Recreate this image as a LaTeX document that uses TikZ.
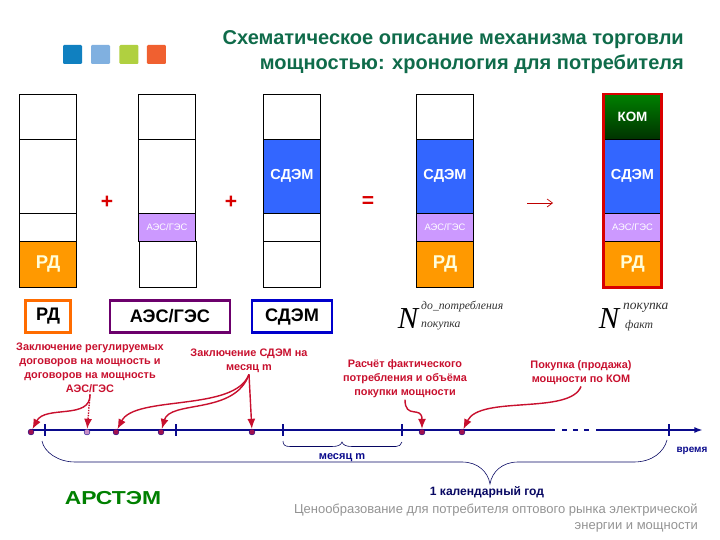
\documentclass[tikz,border=0pt]{standalone}
\usepackage{fontspec}
\setmainfont{Liberation Sans}
\newfontfamily\serifit{Liberation Serif}[ItalicFont=* Italic]
\usepackage{xcolor}
\usetikzlibrary{arrows.meta,positioning,fit}
\definecolor{arsGreen}{HTML}{0F6B4A}
\definecolor{arsRed}{HTML}{C8102E}
\definecolor{arsNavy}{HTML}{0A0A8C}
\definecolor{cellOrange}{HTML}{FF9900}
\definecolor{cellLilac}{HTML}{CC99FF}
\definecolor{cellBlue}{HTML}{3366FF}
\definecolor{dotRed}{HTML}{A01050}
\definecolor{sqBlue}{HTML}{1080C0}
\definecolor{sqSky}{HTML}{80B0E0}
\definecolor{sqLime}{HTML}{B0D040}
\definecolor{sqOrange}{HTML}{F06030}
\tikzset{
  cell/.style={rectangle, draw=black, line width=0.6pt, fill=white, outer sep=0pt, inner sep=0pt, minimum width=1.71cm, align=center, text=white, font=\bfseries\fontsize{12.4}{14}\selectfont},
  rowK/.style={cell, minimum height=1.335cm},
  rowS/.style={cell, minimum height=2.22cm},
  rowA/.style={cell, minimum height=0.84cm},
  rowR/.style={cell, minimum height=1.38cm},
  fillR/.style={fill=cellOrange, text=yellow!15, font=\bfseries\fontsize{15.8}{18}\selectfont},
  fillA/.style={fill=cellLilac, text=white, font=\fontsize{8}{10}\selectfont},
  fillS/.style={fill=cellBlue},
  fillK/.style={top color=green!50!black, bottom color=green!20!black, font=\bfseries\fontsize{11.5}{14}\selectfont},
  legendbox/.style={rectangle, line width=2pt, fill=white, minimum height=0.96cm, inner sep=0pt, font=\bfseries\fontsize{15.5}{18}\selectfont},
  swatch/.style={rectangle, rounded corners=1pt, minimum size=0.57cm, inner sep=0pt},
  oper/.style={text=red!85!black, inner sep=0pt, font=\bfseries\fontsize{18}{18}\selectfont},
  note/.style={text=arsRed, align=center, inner sep=1pt, font=\bfseries\fontsize{9.3}{12}\selectfont},
  tick/.style={draw=arsNavy, line width=1.1pt},
  axis/.style={draw=arsNavy, line width=2.4pt},
  dot/.style={circle, fill=dotRed, draw=arsNavy, line width=0.3pt, minimum size=0.18cm, inner sep=0pt},
  callout/.style={-{Latex[length=3mm,width=2.4mm]}, line width=1.2pt, draw=arsRed},
  brace/.style={draw=arsNavy!70!black, line width=0.5pt},
  bigN/.style={inner sep=0pt, font=\serifit\itshape\fontsize{26}{26}\selectfont},
  idx/.style={anchor=west, inner sep=0pt, font=\serifit\itshape\fontsize{10}{10}\selectfont, text=black!80}
}
\begin{document}
\begin{tikzpicture}[x=0.03cm, y=-0.03cm, node distance=0pt]
\useasboundingbox (0,0) rectangle (720,540);
\node[anchor=north east, align=right, inner sep=0pt, text=arsGreen, font=\bfseries\fontsize{17.1}{21.3}\selectfont] (title) at (684,30) {Схематическое описание механизма торговли\\мощностью: хронология для потребителя};
\node[swatch, fill=sqBlue] (sq1) at (72.5,54.5) {};
\node[swatch, fill=sqSky] (sq2) at (100.5,54.5) {};
\node[swatch, fill=sqLime, right=0.27cm of sq2] (sq3) {};
\node[swatch, fill=sqOrange, right=0.24cm of sq3] (sq4) {};
\node[rowK, anchor=north] (k1) at (48,94.5) {};
\node[rowS, below=of k1] (s1) {};
\node[rowA, below=of s1] (a1) {};
\node[rowR, fillR, below=of a1] (r1) {РД};
\node[rowK, anchor=north] (k2) at (167,94.5) {};
\node[rowS, below=of k2] (s2) {};
\node[rowA, fillA, below=of s2] (a2) {АЭС/ГЭС};
\node[rowR, below=of a2, xshift=0.015cm] (r2) {};
\node[rowK, anchor=north] (k3) at (292,94.5) {};
\node[rowS, fillS, below=of k3] (s3) {СДЭМ};
\node[rowA, below=of s3] (a3) {};
\node[rowR, below=of a3] (r3) {};
\node[rowK, anchor=north] (k4) at (445,94.5) {};
\node[rowS, fillS, below=of k4] (s4) {СДЭМ};
\node[rowA, fillA, below=of s4] (a4) {АЭС/ГЭС};
\node[rowR, fillR, below=of a4] (r4) {РД};
\node[rowK, fillK, anchor=north] (k5) at (632.5,94.5) {КОМ};
\node[rowS, fillS, below=of k5] (s5) {СДЭМ};
\node[rowA, fillA, below=of s5] (a5) {АЭС/ГЭС};
\node[rowR, fillR, below=of a5] (r5) {РД};
\node[draw=red!85!black, line width=2.4pt, inner sep=0.4pt, fit=(k5)(r5)] (frame) {};
\node[oper] (plus1) at (107,202) {+};
\node[oper] (plus2) at (231,202) {+};
\node[oper] (equal) at (368,202) {=};
\coordinate (to1) at (527,203);
\coordinate (to2) at (553,203);
\draw[-{Straight Barb[length=1.6mm,width=2.4mm]}, draw=red!75!black, line width=0.6pt] (to1) -- (to2);
\node[legendbox, draw=orange!85!red, minimum width=1.36cm] (lgR) at (48,316.5) {РД};
\node[legendbox, draw=violet!85!black, minimum width=3.6cm] (lgA) at (170,316.5) {АЭС/ГЭС};
\node[legendbox, draw=blue!80!black, minimum width=2.4cm] (lgS) at (292,316.5) {СДЭМ};
\node[bigN] (n1) at (408,319) {N};
\node[idx] (n1up) at (421,307) {до\_потребления};
\node[idx] (n1dn) at (421,326) {покупка};
\node[bigN] (n2) at (609,319) {N};
\node[idx, font=\serifit\itshape\fontsize{11.5}{11.5}\selectfont] (n2up) at (623,308) {покупка};
\node[idx] (n2dn) at (625,326) {факт};
\node[note] (lblReg) at (90,368) {Заключение регулируемых\\договоров на мощность и\\договоров на мощность\\АЭС/ГЭС};
\node[note] (lblSdem) at (249,361) {Заключение СДЭМ на\\месяц m};
\node[note] (lblCalc) at (405,379) {Расчёт фактического\\потребления и объёма\\покупки мощности};
\node[note] (lblKom) at (581,373) {Покупка (продажа)\\мощности по КОМ};
\coordinate (t0) at (30,430);
\coordinate (t1) at (555,430);
\coordinate (t2) at (562,430);
\coordinate (t3) at (590,430);
\coordinate (t4) at (596,430);
\coordinate (t5) at (703,430);
\draw[axis] (t0) -- (t1);
\draw[axis, dash pattern=on 4.3pt off 5pt] (t2) -- (t3);
\draw[axis, -{Latex[length=2.6mm,width=1.8mm]}] (t4) -- (t5);
\node[dot] (d1) at (31,432) {};
\node[dot, fill=violet!45] (d2) at (87,432) {};
\node[dot] (d3) at (116,432) {};
\node[dot] (d4) at (161,432) {};
\node[dot] (d5) at (252,432) {};
\node[dot] (d6) at (422,432) {};
\node[dot] (d7) at (462,432) {};
\coordinate (tk1a) at (45,424); \coordinate (tk1b) at (45,436);
\coordinate (tk2a) at (176,424); \coordinate (tk2b) at (176,436);
\coordinate (tk3a) at (283,424); \coordinate (tk3b) at (283,436);
\coordinate (tk4a) at (402,424); \coordinate (tk4b) at (402,436);
\coordinate (tk5a) at (669,424); \coordinate (tk5b) at (669,436);
\draw[tick] (tk1a) -- (tk1b);
\draw[tick] (tk2a) -- (tk2b);
\draw[tick] (tk3a) -- (tk3b);
\draw[tick] (tk4a) -- (tk4b);
\draw[tick] (tk5a) -- (tk5b);
\draw[callout] (lblReg.south) .. controls (91,420) and (45,405) .. (d1);
\draw[callout, densely dotted] (lblReg.south) -- (d2);
\draw[callout] (lblSdem.south) .. controls (235,412) and (135,395) .. (d3);
\draw[callout] (lblSdem.south) .. controls (235,415) and (170,400) .. (d4);
\draw[callout] (lblSdem.south) -- (d5);
\draw[callout] (lblCalc.south) .. controls (405,420) and (422,405) .. (d6);
\draw[callout] (lblKom.south) .. controls (570,415) and (480,395) .. (d7);
\coordinate (mLeft) at (283,441);
\coordinate (mTip) at (342,442);
\coordinate (mRight) at (402,442);
\draw[brace] (mLeft) .. controls (283,445) and (285,446.5) .. (290,446.5) -- (332,446.5) .. controls (338,446.5) and (341,445) .. (mTip) .. controls (343,445) and (346,446.5) .. (352,446.5) -- (396,446.5) .. controls (399,446.5) and (401,445) .. (mRight);
\node[text=arsNavy, inner sep=0pt, font=\bfseries\fontsize{9.4}{11}\selectfont] (month) at (342,458) {месяц m};
\coordinate (yLeft) at (42,441);
\coordinate (yTip) at (490,484);
\coordinate (yRight) at (667,440);
\draw[brace] (yLeft) .. controls (44,452) and (58,462) .. (75,462) -- (462,462) .. controls (478,462) and (488,472) .. (yTip) .. controls (492,472) and (502,462) .. (518,462) -- (634,462) .. controls (652,462) and (664,452) .. (yRight);
\node[text=arsNavy, inner sep=0pt, font=\bfseries\fontsize{8.5}{10}\selectfont] (timeLbl) at (692,451) {время};
\node[text=arsNavy!70!black, inner sep=0pt, font=\bfseries\fontsize{10.3}{12}\selectfont] (year) at (487,492) {1 календарный год};
\node[xscale=1.22, text=green!50!black, inner sep=0pt, font=\bfseries\fontsize{16}{16}\selectfont] (logo) at (113,498) {АРСТЭМ};
\node[anchor=north east, align=right, inner sep=0pt, text=gray!85, font=\fontsize{11.1}{13.7}\selectfont] (footer) at (698,503.5) {Ценообразование для потребителя оптового рынка электрической\\энергии и мощности};
\end{tikzpicture}
\end{document}
